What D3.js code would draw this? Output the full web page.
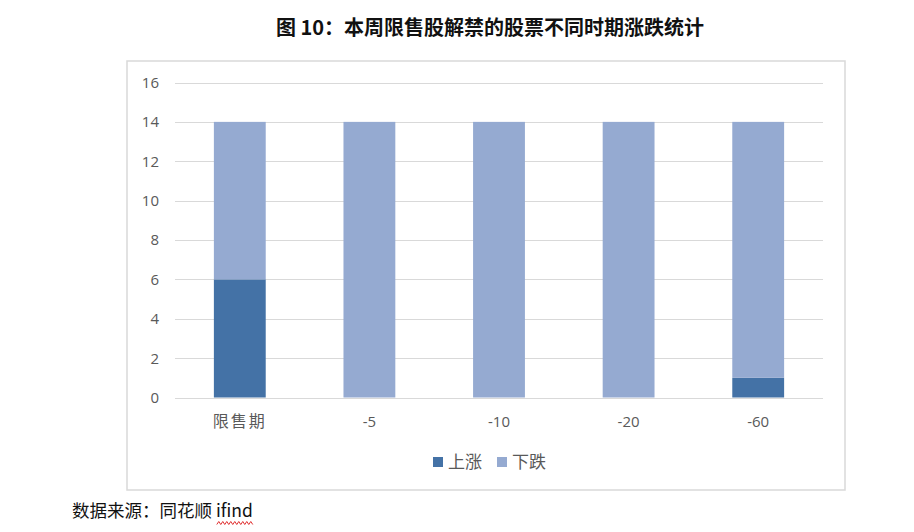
<!DOCTYPE html>
<html>
<head>
<meta charset="utf-8">
<script src="https://cdn.jsdelivr.net/npm/d3@7"></script>
<style>
  html, body { margin: 0; padding: 0; background: #fff; }
  #chart { width: 914px; height: 532px; }
</style>
</head>
<body>
<div id="chart"></div>
<script>
// data
const categories = ["限售期", "-5", "-10", "-20", "-60"];
const seriesNames = ["上涨", "下跌"];
const upValues = [6, 0, 0, 0, 1];
const downValues = [8, 14, 14, 14, 13];
const yTicks = [0, 2, 4, 6, 8, 10, 12, 14, 16];
const colors = ["#4472a6", "#95aad1"];

(function () {
    const width = 914, height = 532;
    const cjk = "'Noto Sans CJK SC', 'Noto Sans', sans-serif";
    const latin = "'Open Sans', 'Noto Sans CJK SC', sans-serif";
    const hasCjk = s => /[\u4e00-\u9fff]/.test(s);

    const svg = d3.select("#chart").append("svg")
        .attr("width", width).attr("height", height);

    // title
    svg.append("text")
        .attr("x", 490).attr("y", 35)
        .attr("text-anchor", "middle")
        .attr("font-family", cjk).attr("font-weight", 700)
        .attr("font-size", 20).attr("fill", "#111")
        .text("图 10：本周限售股解禁的股票不同时期涨跌统计");

    // chart frame
    svg.append("rect")
        .attr("x", 127).attr("y", 61).attr("width", 718).attr("height", 429)
        .attr("fill", "#fff").attr("stroke", "#d9d9d9").attr("stroke-width", 1.5);

    const m = { l: 175, r: 823, t: 82.5, b: 397.5 };
    const x = d3.scaleBand().domain(categories).range([m.l, m.r]).paddingInner(0.6).paddingOuter(0.3);
    const y = d3.scaleLinear().domain([0, 16]).range([m.b, m.t]);

    // grid
    svg.append("g").selectAll("line")
        .data(yTicks).enter().append("line")
        .attr("x1", m.l).attr("x2", m.r)
        .attr("y1", d => Math.round(y(d)) + 0.5).attr("y2", d => Math.round(y(d)) + 0.5)
        .attr("stroke", "#d9d9d9").attr("stroke-width", 1.2);

    // y axis labels
    svg.append("g").selectAll("text")
        .data(yTicks).enter().append("text")
        .attr("x", 159).attr("y", d => y(d))
        .attr("dy", "0.36em")
        .attr("text-anchor", "end")
        .attr("font-family", latin).attr("font-size", 15).attr("fill", "#595959")
        .text(d => d);

    // stacked bars
    const rows = categories.map((c, i) => ({ cat: c, 上涨: upValues[i], 下跌: downValues[i] }));
    const stacked = d3.stack().keys(seriesNames)(rows);

    svg.append("g").selectAll("g")
        .data(stacked).enter().append("g")
        .attr("fill", (d, i) => colors[i])
        .selectAll("rect")
        .data(d => d).enter().append("rect")
        .attr("x", d => x(d.data.cat))
        .attr("y", d => y(d[1]))
        .attr("width", x.bandwidth())
        .attr("height", d => y(d[0]) - y(d[1]));

    // x labels
    svg.append("g").selectAll("text")
        .data(categories).enter().append("text")
        .attr("x", d => x(d) + x.bandwidth() / 2)
        .attr("y", 427)
        .attr("text-anchor", "middle")
        .attr("font-family", d => hasCjk(d) ? cjk : latin)
        .attr("font-size", d => hasCjk(d) ? 16 : 15)
        .attr("letter-spacing", d => hasCjk(d) ? 2 : 0)
        .attr("fill", "#595959")
        .text(d => d);

    // legend
    const legendX = [433, 497];
    const lg = svg.append("g").selectAll("g")
        .data(seriesNames).enter().append("g")
        .attr("transform", (d, i) => `translate(${legendX[i]},462)`);
    lg.append("rect")
        .attr("x", 0).attr("y", -5).attr("width", 10).attr("height", 10)
        .attr("fill", (d, i) => colors[i]);
    lg.append("text")
        .attr("x", 15).attr("y", 0).attr("dy", "0.36em")
        .attr("font-family", cjk).attr("font-size", 17).attr("fill", "#595959")
        .text(d => d);

    // source
    const src = svg.append("text")
        .attr("x", 72).attr("y", 517)
        .attr("font-family", cjk).attr("font-size", 17.5).attr("fill", "#111");
    src.append("tspan").text("数据来源：同花顺 ");
    src.append("tspan").text("ifind");

    // spell-check squiggle under "ifind"
    const bb = src.node().getBBox();
    const x2 = bb.x + bb.width, x1 = x2 - 36;
    const pts = d3.range(x1, x2 + 0.1, 2).map((px, i) => [px, 523 + (i % 2 ? -1.5 : 1.5)]);
    svg.append("path")
        .attr("d", d3.line()(pts))
        .attr("fill", "none").attr("stroke", "#e03030").attr("stroke-width", 1);
})();
</script>
</body>
</html>
